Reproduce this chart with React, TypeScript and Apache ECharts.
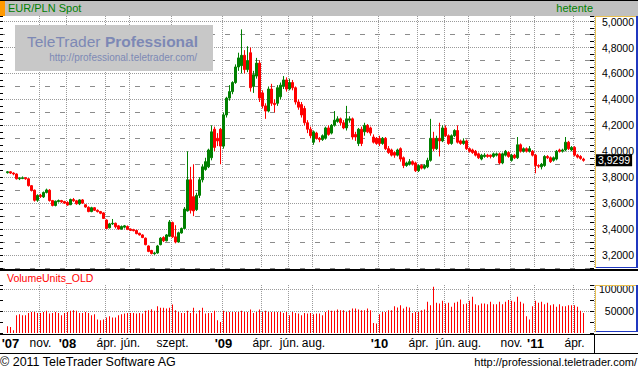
import React, { useEffect, useRef } from 'react';
import * as echarts from 'echarts';

const WEEK_START = '2007-08-13';
const PAD_LEFT = 2;
const PAD_RIGHT = 3;

// weekly candles: [open, close, low, high]
const weeklyCandles: number[][] = [
  [3.835, 3.842, 3.828, 3.848], [3.842, 3.832, 3.825, 3.846], [3.832, 3.825, 3.815, 3.838], [3.825, 3.788, 3.782, 3.830],
  [3.788, 3.792, 3.778, 3.800], [3.790, 3.796, 3.785, 3.806], [3.796, 3.788, 3.780, 3.800], [3.788, 3.735, 3.728, 3.792],
  [3.735, 3.700, 3.690, 3.740], [3.700, 3.622, 3.612, 3.705], [3.622, 3.660, 3.610, 3.668], [3.660, 3.652, 3.640, 3.672],
  [3.648, 3.682, 3.640, 3.690], [3.682, 3.702, 3.675, 3.712], [3.700, 3.620, 3.612, 3.708], [3.620, 3.582, 3.575, 3.625],
  [3.582, 3.615, 3.575, 3.620], [3.612, 3.620, 3.605, 3.628], [3.620, 3.610, 3.602, 3.625], [3.612, 3.600, 3.595, 3.618],
  [3.605, 3.585, 3.580, 3.615], [3.588, 3.628, 3.585, 3.635], [3.628, 3.618, 3.610, 3.640], [3.618, 3.595, 3.588, 3.625],
  [3.595, 3.625, 3.585, 3.630], [3.625, 3.600, 3.595, 3.632], [3.588, 3.570, 3.565, 3.592], [3.568, 3.535, 3.530, 3.575],
  [3.535, 3.565, 3.530, 3.572], [3.565, 3.545, 3.540, 3.570], [3.545, 3.535, 3.528, 3.552], [3.535, 3.522, 3.515, 3.540],
  [3.525, 3.482, 3.478, 3.530], [3.470, 3.405, 3.400, 3.475], [3.410, 3.440, 3.405, 3.448], [3.440, 3.445, 3.432, 3.478],
  [3.445, 3.418, 3.405, 3.450], [3.425, 3.400, 3.395, 3.432], [3.400, 3.420, 3.395, 3.428], [3.415, 3.425, 3.405, 3.432],
  [3.420, 3.398, 3.392, 3.428], [3.400, 3.390, 3.385, 3.405], [3.395, 3.388, 3.382, 3.402], [3.390, 3.365, 3.360, 3.395],
  [3.368, 3.355, 3.350, 3.372], [3.355, 3.335, 3.330, 3.360], [3.330, 3.280, 3.275, 3.335], [3.270, 3.228, 3.222, 3.275],
  [3.235, 3.212, 3.205, 3.240], [3.210, 3.216, 3.202, 3.225], [3.216, 3.270, 3.210, 3.278], [3.280, 3.330, 3.275, 3.338],
  [3.335, 3.310, 3.300, 3.345], [3.310, 3.355, 3.305, 3.362], [3.345, 3.455, 3.340, 3.470], [3.450, 3.340, 3.332, 3.458],
  [3.340, 3.300, 3.290, 3.430], [3.300, 3.372, 3.295, 3.380], [3.370, 3.405, 3.365, 3.412], [3.405, 3.555, 3.400, 3.570],
  [3.540, 3.780, 3.535, 4.000], [3.780, 3.545, 3.520, 3.880], [3.650, 3.540, 3.500, 3.900], [3.550, 3.660, 3.540, 3.680],
  [3.660, 3.780, 3.640, 3.800], [3.780, 3.880, 3.760, 3.900], [3.860, 3.920, 3.850, 3.950], [3.880, 4.010, 3.870, 4.020],
  [3.950, 4.150, 3.930, 4.200], [4.170, 4.030, 4.000, 4.190], [4.100, 4.080, 4.040, 4.140], [4.170, 4.040, 3.900, 4.180],
  [4.040, 4.280, 4.020, 4.300], [4.280, 4.410, 4.260, 4.420], [4.410, 4.460, 4.390, 4.510], [4.460, 4.530, 4.440, 4.540],
  [4.530, 4.650, 4.520, 4.670], [4.650, 4.720, 4.620, 4.760], [4.660, 4.740, 4.600, 4.940], [4.740, 4.630, 4.600, 4.780],
  [4.630, 4.700, 4.610, 4.810], [4.760, 4.490, 4.460, 4.800], [4.500, 4.590, 4.450, 4.620], [4.580, 4.680, 4.560, 4.720],
  [4.680, 4.410, 4.380, 4.700], [4.450, 4.350, 4.330, 4.470], [4.350, 4.310, 4.250, 4.370], [4.310, 4.480, 4.300, 4.500],
  [4.480, 4.370, 4.350, 4.520], [4.370, 4.360, 4.300, 4.400], [4.370, 4.490, 4.350, 4.510], [4.420, 4.510, 4.400, 4.530],
  [4.500, 4.550, 4.480, 4.580], [4.550, 4.480, 4.460, 4.570], [4.480, 4.530, 4.470, 4.560], [4.530, 4.490, 4.470, 4.550],
  [4.490, 4.380, 4.360, 4.500], [4.380, 4.340, 4.320, 4.400], [4.360, 4.280, 4.260, 4.380], [4.330, 4.220, 4.200, 4.350],
  [4.220, 4.170, 4.140, 4.240], [4.170, 4.120, 4.100, 4.190], [4.070, 4.150, 4.050, 4.160], [4.140, 4.100, 4.090, 4.150],
  [4.100, 4.090, 4.070, 4.110], [4.090, 4.120, 4.080, 4.130], [4.100, 4.180, 4.090, 4.190], [4.180, 4.130, 4.120, 4.200],
  [4.140, 4.200, 4.130, 4.210], [4.200, 4.240, 4.190, 4.310], [4.230, 4.250, 4.220, 4.270], [4.250, 4.220, 4.200, 4.260],
  [4.220, 4.180, 4.170, 4.240], [4.180, 4.250, 4.160, 4.350], [4.240, 4.250, 4.220, 4.270], [4.250, 4.110, 4.090, 4.260],
  [4.130, 4.110, 4.080, 4.150], [4.060, 4.170, 4.040, 4.180], [4.170, 4.060, 4.040, 4.190], [4.150, 4.200, 4.120, 4.220],
  [4.200, 4.150, 4.140, 4.210], [4.180, 4.140, 4.120, 4.190], [4.110, 4.070, 4.060, 4.130], [4.100, 4.060, 4.050, 4.110],
  [4.100, 4.060, 4.040, 4.120], [4.060, 4.100, 4.050, 4.110], [4.100, 4.020, 4.010, 4.110], [4.020, 3.990, 3.980, 4.040],
  [4.010, 3.970, 3.960, 4.020], [3.990, 3.970, 3.950, 4.000], [3.970, 4.010, 3.960, 4.020], [4.020, 3.940, 3.920, 4.030],
  [3.950, 3.890, 3.870, 3.960], [3.890, 3.910, 3.880, 3.920], [3.900, 3.920, 3.890, 3.940], [3.920, 3.900, 3.890, 3.930],
  [3.910, 3.850, 3.840, 3.920], [3.850, 3.890, 3.840, 3.900], [3.890, 3.870, 3.860, 3.900], [3.870, 3.890, 3.860, 3.900],
  [3.880, 3.930, 3.870, 3.950], [3.930, 4.100, 3.920, 4.250], [4.100, 4.020, 4.000, 4.150], [4.020, 4.100, 4.010, 4.120],
  [4.100, 4.080, 3.960, 4.220], [4.080, 4.180, 4.070, 4.200], [4.180, 4.120, 4.110, 4.200], [4.120, 4.060, 4.050, 4.130],
  [4.060, 4.120, 4.050, 4.130], [4.120, 4.160, 4.110, 4.170], [4.160, 4.070, 4.060, 4.200], [4.080, 4.060, 4.050, 4.090],
  [4.060, 4.080, 4.050, 4.100], [4.080, 4.020, 4.010, 4.090], [4.020, 4.000, 3.990, 4.030], [4.010, 3.990, 3.980, 4.020],
  [4.000, 3.970, 3.960, 4.010], [3.980, 3.950, 3.940, 3.990], [3.940, 3.970, 3.930, 3.980], [3.960, 3.970, 3.950, 3.985],
  [3.970, 3.960, 3.950, 3.980], [3.970, 3.960, 3.945, 3.975], [3.960, 3.980, 3.950, 3.990], [3.970, 3.980, 3.960, 3.990],
  [3.980, 3.910, 3.900, 3.990], [3.910, 3.980, 3.900, 3.990], [3.970, 4.000, 3.960, 4.010], [3.990, 3.960, 3.950, 4.000],
  [3.930, 3.970, 3.920, 3.980], [3.970, 3.950, 3.940, 3.980], [3.950, 4.050, 3.940, 4.110], [4.050, 4.000, 3.990, 4.060],
  [4.000, 4.020, 3.990, 4.030], [4.020, 4.000, 3.990, 4.030], [4.000, 4.020, 3.990, 4.040], [4.000, 3.970, 3.960, 4.010],
  [3.970, 3.890, 3.830, 3.980], [3.890, 3.885, 3.870, 3.900], [3.880, 3.900, 3.860, 3.910], [3.890, 3.960, 3.880, 3.970],
  [3.960, 3.950, 3.940, 3.970], [3.950, 3.920, 3.910, 3.960], [3.930, 3.950, 3.920, 3.960], [3.940, 4.000, 3.930, 4.010],
  [4.010, 4.000, 3.990, 4.020], [4.000, 4.010, 3.990, 4.020], [4.010, 4.070, 4.000, 4.110], [4.070, 4.020, 4.010, 4.080],
  [4.010, 4.030, 4.000, 4.040], [4.030, 3.970, 3.960, 4.040], [3.970, 3.955, 3.945, 3.980], [3.960, 3.945, 3.935, 3.970],
  [3.940, 3.9299, 3.920, 3.950],
];

const weeklyVolumes: number[] = [
  15400, 13800, 6200, 40800, 43100, 40800, 40800, 46100, 48400, 48400,
  46100, 46100, 48400, 50800, 44600, 46100, 48400, 46100, 40800, 46100,
  48400, 50800, 52300, 50800, 46100, 46100, 48400, 46100, 40800, 43100,
  30800, 29200, 30800, 35400, 38500, 35400, 35400, 40800, 43100, 44600,
  46100, 46100, 46100, 44600, 46100, 44600, 50800, 52300, 54600, 50800,
  61500, 57700, 57700, 56100, 57700, 65400, 52300, 48400, 46100, 46100,
  50800, 46100, 57700, 44600, 52300, 57700, 44600, 46100, 46100, 50800,
  29200, 25400, 50800, 48400, 48400, 48400, 48400, 48400, 50800, 48400,
  48400, 53800, 46100, 48400, 53800, 48400, 50800, 48400, 48400, 48400,
  48400, 48400, 46100, 48400, 40800, 48400, 46100, 44600, 40800, 46100,
  44600, 46100, 43100, 44600, 44600, 40800, 48400, 52300, 50800, 50800,
  53800, 52300, 52300, 48400, 52300, 56100, 56100, 53800, 52300, 52300,
  56100, 52300, 23100, 21500, 43100, 48400, 48400, 52300, 52300, 61500,
  58400, 63800, 56100, 60000, 58400, 46100, 48400, 48400, 52300, 53800,
  71500, 63800, 106100, 69200, 67700, 73800, 67700, 69200, 60000, 69200,
  71500, 76900, 66100, 67700, 73800, 83100, 66100, 63800, 67700, 67700,
  66100, 71500, 66100, 66100, 71500, 66100, 71500, 75400, 73800, 71500,
  83100, 71500, 67700, 38500, 30800, 61500, 73800, 69200, 71500, 66100,
  69200, 63800, 66100, 60000, 66100, 61500, 61500, 63800, 63800, 63800,
  60000, 50800, 46100,
];

const xLabelDates = [
  '2007-08-20', '2007-11-01', '2008-01-01', '2008-04-01', '2008-06-01', '2008-09-01',
  '2009-01-01', '2009-04-01', '2009-06-01', '2009-08-01', '2010-01-01', '2010-04-01',
  '2010-06-01', '2010-08-01', '2010-11-01', '2011-01-01', '2011-04-01',
];
const xLabelTexts = [
  "'07", 'nov.', "'08", 'ápr.', 'jún.', 'szept.',
  "'09", 'ápr.', 'jún.', 'aug.', "'10", 'ápr.',
  'jún.', 'aug.', 'nov.', "'11", 'ápr.',
];

const priceTickValues = [3.2, 3.4, 3.6, 3.8, 4.0, 4.2, 4.4, 4.6, 4.8, 5.0];
const priceTickLabels = ['3,2000', '3,4000', '3,6000', '3,8000', '4,0000', '4,2000', '4,4000', '4,6000', '4,8000', '5,0000'];
const volumeTickValues = [50000, 100000];
const volumeTickLabels = ['50000', '100000'];
const lastPriceLabel = '3,9299';

const FONT = '"Liberation Sans", Arial, Helvetica, sans-serif';

export default function App() {
  const ref = useRef<HTMLDivElement>(null);

  useEffect(() => {
    const el = ref.current;
    if (!el) return;
    const chart = echarts.init(el, null, { renderer: 'svg' });

    const DAY = 86400000;
    const t0 = Date.parse(WEEK_START);
    const n = weeklyCandles.length;
    const cats: string[] = [];
    for (let p = 0; p < PAD_LEFT; p++) cats.push('padL' + p);
    for (let i = 0; i < n; i++) cats.push(new Date(t0 + i * 7 * DAY).toISOString().slice(0, 10));
    for (let p = 0; p < PAD_RIGHT; p++) cats.push('padR' + p);

    const labelAt = new Map<number, string>();
    const gridAt = new Set<number>();
    xLabelDates.forEach((d, k) => {
      const c = Math.floor((Date.parse(d) - t0) / (7 * DAY)) + PAD_LEFT;
      labelAt.set(c, xLabelTexts[k]);
      if (k > 0) gridAt.add(c);
    });

    const lastClose = weeklyCandles[n - 1][1];
    const GRID = '#9a9a9a';
    const DASH = '#8c8c8c';
    const T = 'rgba(0,0,0,0)';
    const YEL = '#e8c050';
    const BLU = '#2038c0';

    const gridLineFn = (idx: number) => gridAt.has(idx);

    const priceFmt = (v: number) => {
      const k = priceTickValues.findIndex((t) => Math.abs(t - v) < 1e-6);
      return k >= 0 ? priceTickLabels[k] : '';
    };
    const volFmt = (v: number) => {
      const k = volumeTickValues.findIndex((t) => Math.abs(t - v) < 1e-6);
      return k >= 0 ? volumeTickLabels[k] : '';
    };

    const option: any = {
      animation: false,
      backgroundColor: '#ffffff',
      textStyle: { fontFamily: FONT },
      grid: [
        { left: 0, top: 16, width: 594, height: 252, containLabel: false, outerBoundsMode: 'none' },
        { left: 0, top: 285, width: 594, height: 48, containLabel: false, outerBoundsMode: 'none' },
      ],
      xAxis: [
        {
          type: 'category', gridIndex: 0, data: cats, boundaryGap: true,
          axisLine: { show: false }, axisTick: { show: false }, axisLabel: { show: false },
          splitLine: { show: true, interval: gridLineFn, lineStyle: { color: GRID, type: [1, 1], width: 1 } },
        },
        {
          type: 'category', gridIndex: 1, data: cats, boundaryGap: true,
          axisLine: { show: false }, axisTick: { show: false },
          axisLabel: {
            show: true,
            interval: (idx: number) => labelAt.has(idx),
            formatter: (_v: string, idx: number) => {
              const t = labelAt.get(idx);
              if (!t) return '';
              return t.startsWith("'") ? `{y|${t}}` : t;
            },
            margin: 10, verticalAlign: 'middle', fontSize: 12, color: '#000', fontFamily: FONT,
            rich: { y: { fontSize: 13, fontWeight: 'bold', color: '#000', fontFamily: FONT } },
          },
          splitLine: { show: true, interval: gridLineFn, lineStyle: { color: GRID, type: [1, 1], width: 1 } },
        },
      ],
      yAxis: [
        {
          type: 'value', gridIndex: 0, position: 'right', min: 3.1, max: 5.043, interval: 0.05,
          axisLine: { show: false },
          axisTick: { show: true, inside: true, length: 4, lineStyle: { color: '#000' } },
          axisLabel: { show: true, formatter: priceFmt, align: 'right', margin: 40, fontSize: 10.5, color: '#000', fontFamily: FONT },
          splitLine: { show: true, lineStyle: { color: [T, T, GRID, T], type: [1, 1], width: 1 } },
        },
        {
          type: 'value', gridIndex: 0, position: 'left', min: 3.1, max: 5.043, interval: 0.05,
          axisLine: { show: false },
          axisTick: { show: true, inside: true, length: 3, lineStyle: { color: '#000' } },
          axisLabel: { show: false },
          splitLine: { show: true, lineStyle: { color: [DASH, T, T, T], type: [5, 10], width: 1 } },
        },
        {
          type: 'value', gridIndex: 1, position: 'right', min: 0, max: 110000, interval: 25000,
          axisLine: { show: false },
          axisTick: { show: true, inside: true, length: 4, lineStyle: { color: '#000' } },
          axisLabel: { show: true, formatter: volFmt, align: 'right', margin: 40, fontSize: 10.5, color: '#000', fontFamily: FONT },
          splitLine: { show: true, lineStyle: { color: [T, T, GRID, T, GRID, T], type: [1, 1], width: 1 } },
        },
        {
          type: 'value', gridIndex: 1, position: 'left', min: 0, max: 110000, interval: 25000,
          axisLine: { show: false },
          axisTick: { show: true, inside: true, length: 3, lineStyle: { color: '#000' } },
          axisLabel: { show: false },
          splitLine: { show: false },
        },
      ],
      series: [
        {
          type: 'candlestick', name: 'EUR/PLN', xAxisIndex: 0, yAxisIndex: 0,
          encode: { x: 0, y: [1, 2, 3, 4] },
          data: weeklyCandles.map((c, i) => [i + PAD_LEFT, c[0], c[1], c[2], c[3]]),
          barWidth: 2,
          itemStyle: { color: '#008000', color0: '#ff0000', borderColor: '#008000', borderColor0: '#ff0000', borderColorDoji: '#008000', borderWidth: 1 },
          markLine: {
            silent: true, symbol: ['none', 'none'], animation: false,
            lineStyle: { color: T, width: 0 },
            label: {
              show: true, position: 'end', formatter: lastPriceLabel, color: '#fff', backgroundColor: '#000',
              padding: [1, 2, 0, 2], fontSize: 10.5, distance: 2, fontFamily: FONT,
            },
            data: [{ yAxis: lastClose }],
          },
        },
        {
          type: 'bar', name: 'VolumeUnits_OLD', xAxisIndex: 1, yAxisIndex: 2,
          data: weeklyVolumes.map((v, i) => [i + PAD_LEFT, v]),
          barWidth: 1,
          itemStyle: { color: '#ff0000' },
        },
      ],
      graphic: [
        // title bar
        { type: 'rect', z: 10, silent: true, shape: { x: 0, y: 0, width: 638, height: 16 }, style: { fill: '#c0c0c0' } },
        { type: 'line', z: 11, silent: true, shape: { x1: 0, y1: 0.5, x2: 638, y2: 0.5 }, style: { stroke: '#000', lineWidth: 1 } },
        { type: 'rect', z: 11, silent: true, shape: { x: 0, y: 1, width: 5, height: 15 }, style: { fill: '#ff9900' } },
        { type: 'text', z: 11, silent: true, x: 8, y: 8, style: { text: 'EUR/PLN Spot', fill: '#008000', fontSize: 11, fontFamily: FONT, align: 'left', verticalAlign: 'middle' } },
        { type: 'text', z: 11, silent: true, x: 593, y: 8, style: { text: 'hetente', fill: '#008000', fontSize: 11, fontFamily: FONT, align: 'right', verticalAlign: 'middle' } },
        // watermark
        { type: 'rect', z: 1, silent: true, shape: { x: 15, y: 25, width: 198, height: 46 }, style: { fill: '#c8c8c8' } },
        { type: 'text', z: 1.5, silent: true, x: 27, y: 41, style: { text: 'TeleTrader', fill: '#7d88b5', fontSize: 15.5, fontFamily: FONT, align: 'left', verticalAlign: 'middle' } },
        { type: 'text', z: 1.5, silent: true, x: 198, y: 41, style: { text: 'Professional', fill: '#7d88b5', fontSize: 15.5, fontWeight: 'bold', fontFamily: FONT, align: 'right', verticalAlign: 'middle' } },
        { type: 'text', z: 1.5, silent: true, x: 197, y: 57.5, style: { text: 'http://professional.teletrader.com/', fill: '#7d88b5', fontSize: 10, fontFamily: FONT, align: 'right', verticalAlign: 'middle' } },
        // price axis panel
        { type: 'line', z: 11, silent: true, shape: { x1: 595.5, y1: 16, x2: 595.5, y2: 268 }, style: { stroke: YEL, lineWidth: 1 } },
        { type: 'line', z: 11, silent: true, shape: { x1: 595, y1: 16.5, x2: 636, y2: 16.5 }, style: { stroke: YEL, lineWidth: 1 } },
        { type: 'rect', z: 11, silent: true, shape: { x: 636, y: 16, width: 2, height: 252 }, style: { fill: BLU } },
        { type: 'line', z: 11, silent: true, shape: { x1: 596, y1: 267.5, x2: 638, y2: 267.5 }, style: { stroke: BLU, lineWidth: 1 } },
        // separator
        { type: 'rect', z: 11, silent: true, shape: { x: 0, y: 269, width: 638, height: 2 }, style: { fill: '#000' } },
        { type: 'text', z: 11, silent: true, x: 7, y: 277.5, style: { text: 'VolumeUnits_OLD', fill: '#ff0000', fontSize: 10.5, fontFamily: FONT, align: 'left', verticalAlign: 'middle' } },
        // volume axis panel
        { type: 'line', z: 11, silent: true, shape: { x1: 595.5, y1: 285, x2: 595.5, y2: 332 }, style: { stroke: YEL, lineWidth: 1 } },
        { type: 'line', z: 11, silent: true, shape: { x1: 595, y1: 285.5, x2: 636, y2: 285.5 }, style: { stroke: YEL, lineWidth: 1 } },
        { type: 'rect', z: 11, silent: true, shape: { x: 636, y: 285, width: 2, height: 47 }, style: { fill: BLU } },
        { type: 'line', z: 11, silent: true, shape: { x1: 596, y1: 331.5, x2: 638, y2: 331.5 }, style: { stroke: BLU, lineWidth: 1 } },
        // label row
        { type: 'line', z: 11, silent: true, shape: { x1: 0, y1: 334.5, x2: 638, y2: 334.5 }, style: { stroke: '#000', lineWidth: 1 } },
        { type: 'line', z: 11, silent: true, shape: { x1: 0, y1: 353.5, x2: 638, y2: 353.5 }, style: { stroke: '#000', lineWidth: 1 } },
        { type: 'line', z: 11, silent: true, shape: { x1: 594.5, y1: 334, x2: 594.5, y2: 354 }, style: { stroke: '#000', lineWidth: 1 } },
        // footer
        { type: 'text', z: 11, silent: true, x: 0, y: 362, style: { text: '© 2011 TeleTrader Software AG', fill: '#000', fontSize: 12.5, fontFamily: FONT, align: 'left', verticalAlign: 'middle' } },
        { type: 'text', z: 11, silent: true, x: 637, y: 362, style: { text: 'http://professional.teletrader.com/', fill: '#000', fontSize: 11, fontFamily: FONT, align: 'right', verticalAlign: 'middle' } },
      ],
    };

    chart.setOption(option);
    return () => chart.dispose();
  }, []);

  return (
    <div
      ref={ref}
      style={{ position: 'absolute', left: 0, top: 0, width: 638, height: 371, background: '#fff' }}
    />
  );
}
